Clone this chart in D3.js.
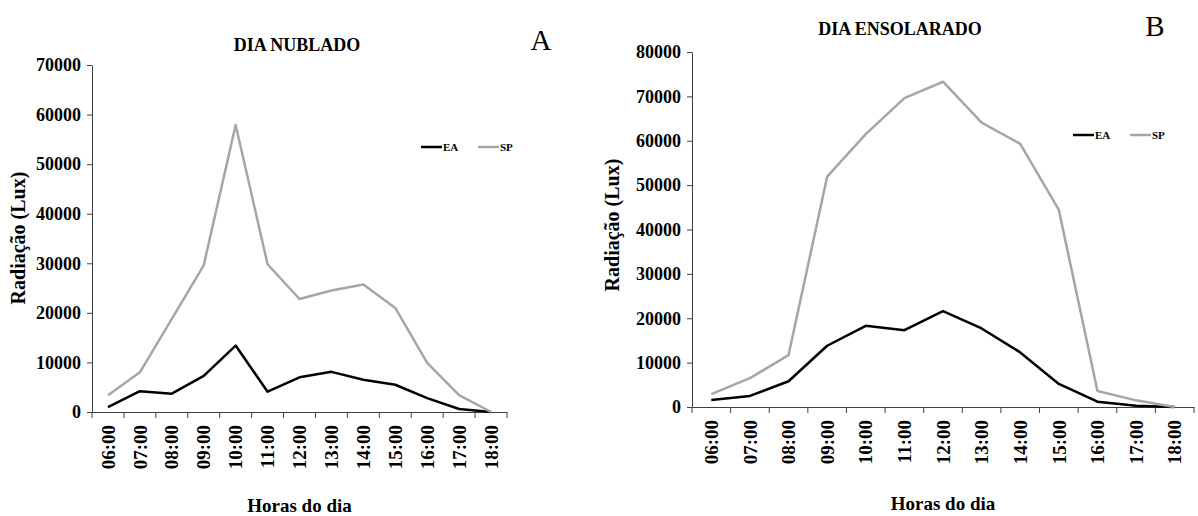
<!DOCTYPE html>
<html>
<head>
    <title>Radiação</title>
    <script src="https://d3js.org/d3.v7.min.js"></script>
    <style>
        body {
            margin: 0;
            background-color: white;
        }
        svg text {
            font-family: "Liberation Serif", "Times New Roman", serif;
            font-weight: bold;
            fill: #000;
        }
        .domain, .tick line {
            stroke: #404040;
        }
    </style>
</head>
<body>
    <div id="chart"></div>
    <script>
        // Data
        const horas = ["06:00", "07:00", "08:00", "09:00", "10:00", "11:00", "12:00",
                       "13:00", "14:00", "15:00", "16:00", "17:00", "18:00"];

        const nubladoEA = [1000, 4200, 3700, 7300, 13400, 4100, 7000, 8100, 6500, 5500, 2800, 600, 0];
        const nubladoSP = [3400, 8000, 18800, 29600, 57900, 29800, 22800, 24500, 25700, 21000, 9900, 3400, 0];

        const ensolaradoEA = [1600, 2500, 5800, 13800, 18300, 17300, 21600, 17700, 12300, 5200, 1200, 300, 0];
        const ensolaradoSP = [2900, 6500, 11700, 51900, 61500, 69600, 73300, 64100, 59300, 44400, 3600, 1500, 0];

        const seriesNames = ["EA", "SP"];
        const seriesColors = ["#000000", "#a6a6a6"];

        const width = 1198;
        const height = 516;

        const svg = d3.select("#chart")
            .append("svg")
            .attr("width", width)
            .attr("height", height);

        // one panel per chart
        function drawPanel(p) {
            const g = svg.append("g");

            const x = d3.scaleBand()
                .domain(horas)
                .range([p.left, p.right]);

            const y = d3.scaleLinear()
                .domain([0, p.yMax])
                .range([p.bottom, p.top]);

            // y axis
            g.append("g")
                .attr("transform", `translate(${p.left},0)`)
                .call(d3.axisLeft(y).tickValues(d3.range(0, p.yMax + 1, 10000)).tickSize(5).tickSizeOuter(0).tickFormat(d3.format("d")))
                .call(a => a.attr("font-family", null).attr("font-size", null))
                .call(a => a.selectAll("text").style("font-size", "18px").attr("dx", "-3px"));

            // x axis
            const xAxis = g.append("g")
                .attr("transform", `translate(0,${p.bottom})`)
                .call(d3.axisBottom(x).tickSize(0).tickSizeOuter(0))
                .call(a => a.attr("font-family", null).attr("font-size", null));
            xAxis.selectAll(".tick text")
                .style("font-size", "19px")
                .attr("text-anchor", "end")
                .attr("transform", "rotate(-90)")
                .attr("x", -13)
                .attr("y", 0)
                .attr("dy", "0.35em");
            // tick marks between categories
            xAxis.selectAll(".sep")
                .data(horas.concat(["end"]))
                .enter()
                .append("line")
                .attr("class", "sep")
                .attr("x1", (d, i) => p.left + i * x.step())
                .attr("x2", (d, i) => p.left + i * x.step())
                .attr("y1", 0)
                .attr("y2", 6)
                .attr("stroke", "#404040");

            // lines
            const line = d3.line()
                .x((d, i) => x(horas[i]) + x.bandwidth() / 2)
                .y(d => y(d));

            [p.ea, p.sp].forEach((vals, k) => {
                g.append("path")
                    .datum(vals)
                    .attr("fill", "none")
                    .attr("stroke", seriesColors[k])
                    .attr("stroke-width", 2.5)
                    .attr("stroke-linejoin", "round")
                    .attr("d", line);
            });

            // title
            g.append("text")
                .attr("x", p.titleX)
                .attr("y", p.titleY)
                .attr("text-anchor", "middle")
                .style("font-size", "18px")
                .text(p.title);

            // panel letter
            g.append("text")
                .attr("x", p.letterX)
                .attr("y", p.letterY)
                .attr("text-anchor", "middle")
                .style("font-size", "29px")
                .style("font-weight", "normal")
                .text(p.letter);

            // axis titles
            g.append("text")
                .attr("x", (p.left + p.right) / 2)
                .attr("y", p.xTitleY)
                .attr("text-anchor", "middle")
                .style("font-size", "19px")
                .text("Horas do dia");

            g.append("text")
                .attr("transform", `translate(${p.yTitleX},${p.yTitleY}) rotate(-90)`)
                .attr("text-anchor", "middle")
                .style("font-size", "20px")
                .text("Radiação (Lux)");

            // legend
            const leg = g.append("g")
                .attr("transform", `translate(${p.legendX},${p.legendY})`);
            seriesNames.forEach((name, k) => {
                const item = leg.append("g").attr("transform", `translate(${k * 57},0)`);
                item.append("line")
                    .attr("x1", 0).attr("x2", 21)
                    .attr("y1", 0).attr("y2", 0)
                    .attr("stroke", seriesColors[k])
                    .attr("stroke-width", 2.5);
                item.append("text")
                    .attr("x", 22)
                    .attr("y", 4)
                    .style("font-size", "11px")
                    .text(name);
            });
        }

        drawPanel({
            left: 92, right: 507, top: 65, bottom: 412, yMax: 70000,
            ea: nubladoEA, sp: nubladoSP,
            title: "DIA NUBLADO", titleX: 297, titleY: 51,
            letter: "A", letterX: 541, letterY: 50,
            xTitleY: 512, yTitleX: 25, yTitleY: 238,
            legendX: 421, legendY: 147
        });

        drawPanel({
            left: 692, right: 1194, top: 52, bottom: 407, yMax: 80000,
            ea: ensolaradoEA, sp: ensolaradoSP,
            title: "DIA ENSOLARADO", titleX: 900, titleY: 35,
            letter: "B", letterX: 1155, letterY: 36,
            xTitleY: 510, yTitleX: 619, yTitleY: 225,
            legendX: 1073, legendY: 135
        });
    </script>
</body>
</html>
